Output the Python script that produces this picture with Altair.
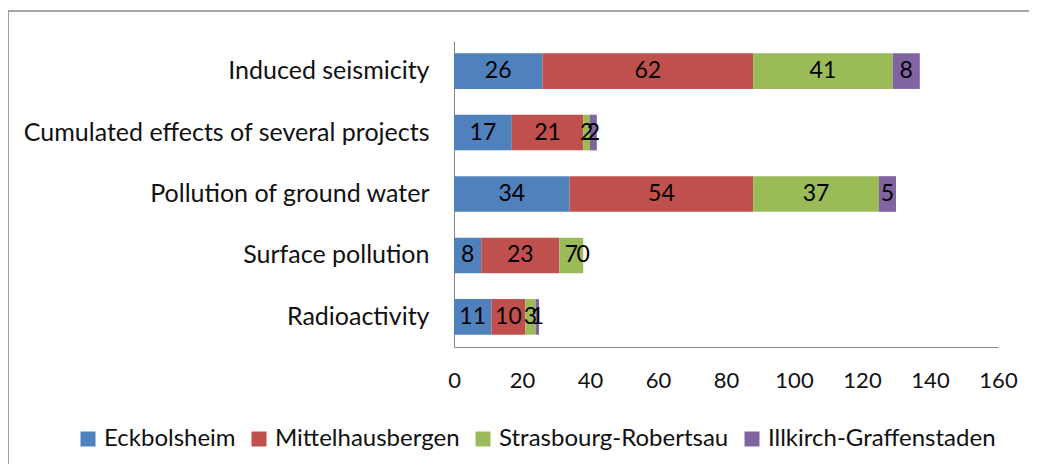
import altair as alt
import pandas as pd

categories = ["Induced seismicity", "Cumulated effects of several projects",
              "Pollution of ground water", "Surface pollution", "Radioactivity"]
series = ["Eckbolsheim", "Mittelhausbergen", "Strasbourg-Robertsau", "Illkirch-Graffenstaden"]
eckbolsheim = [26, 17, 34, 8, 11]
mittelhausbergen = [62, 21, 54, 23, 10]
strasbourg = [41, 2, 37, 7, 3]
illkirch = [8, 2, 5, 0, 1]
colors = ["#4F81BD", "#C0504D", "#9BBB59", "#8064A2"]
x_ticks = [0, 20, 40, 60, 80, 100, 120, 140, 160]

rows = []
for si, (s, vals) in enumerate(zip(series, [eckbolsheim, mittelhausbergen, strasbourg, illkirch])):
    for c, v in zip(categories, vals):
        rows.append({"category": c, "series": s, "value": v, "order": si})
df = pd.DataFrame(rows)

FONT = "Lato"

base = alt.Chart(df).transform_stack(
    stack="value", groupby=["category"], as_=["v0", "v1"],
    sort=[alt.SortField("order", order="ascending")]
).transform_calculate(mid="(datum.v0 + datum.v1) / 2")

y_enc = alt.Y("category:N", sort=categories, title=None,
              scale=alt.Scale(paddingInner=0.42, paddingOuter=0.2),
              axis=alt.Axis(domainColor="#868686", ticks=False, labelPadding=25,
                            labelFontSize=25, labelColor="#111111", labelFont=FONT,
                            labelLimit=500))

bars = base.mark_bar().encode(
    x=alt.X("v0:Q", title=None,
            scale=alt.Scale(domain=[0, 160], nice=False),
            axis=alt.Axis(values=x_ticks, grid=False, ticks=False, domainColor="#868686",
                          labelPadding=23, labelFontSize=22, labelColor="#111111",
                          labelFont=FONT, labelFlush=False, labelOverlap=False)),
    x2="v1:Q",
    y=y_enc,
    color=alt.Color("series:N", sort=series,
                    scale=alt.Scale(domain=series, range=colors),
                    legend=alt.Legend(title=None, orient="none", direction="horizontal",
                                      legendX=-378, legendY=386, symbolType="square",
                                      symbolSize=225, symbolStrokeWidth=0,
                                      labelFontSize=24, labelFont=FONT, labelColor="#111111",
                                      labelOffset=4, columnPadding=11, padding=0,
                                      labelLimit=500)),
    order=alt.Order("order:Q"),
)

labels = base.mark_text(fontSize=23, font=FONT, color="#000000").encode(
    x=alt.X("mid:Q"),
    y=alt.Y("category:N", sort=categories),
    text=alt.Text("value:Q"),
)

frame_src = alt.Chart(pd.DataFrame({"a": [0]}))
border_top = frame_src.mark_rule(stroke="#868686", strokeWidth=1.5).encode(
    x=alt.value(-446), x2=alt.value(640), y=alt.value(-30))
border_left = frame_src.mark_rule(stroke="#868686", strokeWidth=1.5).encode(
    x=alt.value(-446), y=alt.value(-30), y2=alt.value(500))

chart = alt.layer(border_top, border_left, bars, labels).properties(
    width=544, height=306,
    autosize=alt.AutoSizeParams(type="none"),
    padding={"left": 446, "top": 33, "right": 31, "bottom": 117},
).configure_view(stroke=None)

chart.save("out.html", embed_options={"renderer": "svg", "actions": False})
